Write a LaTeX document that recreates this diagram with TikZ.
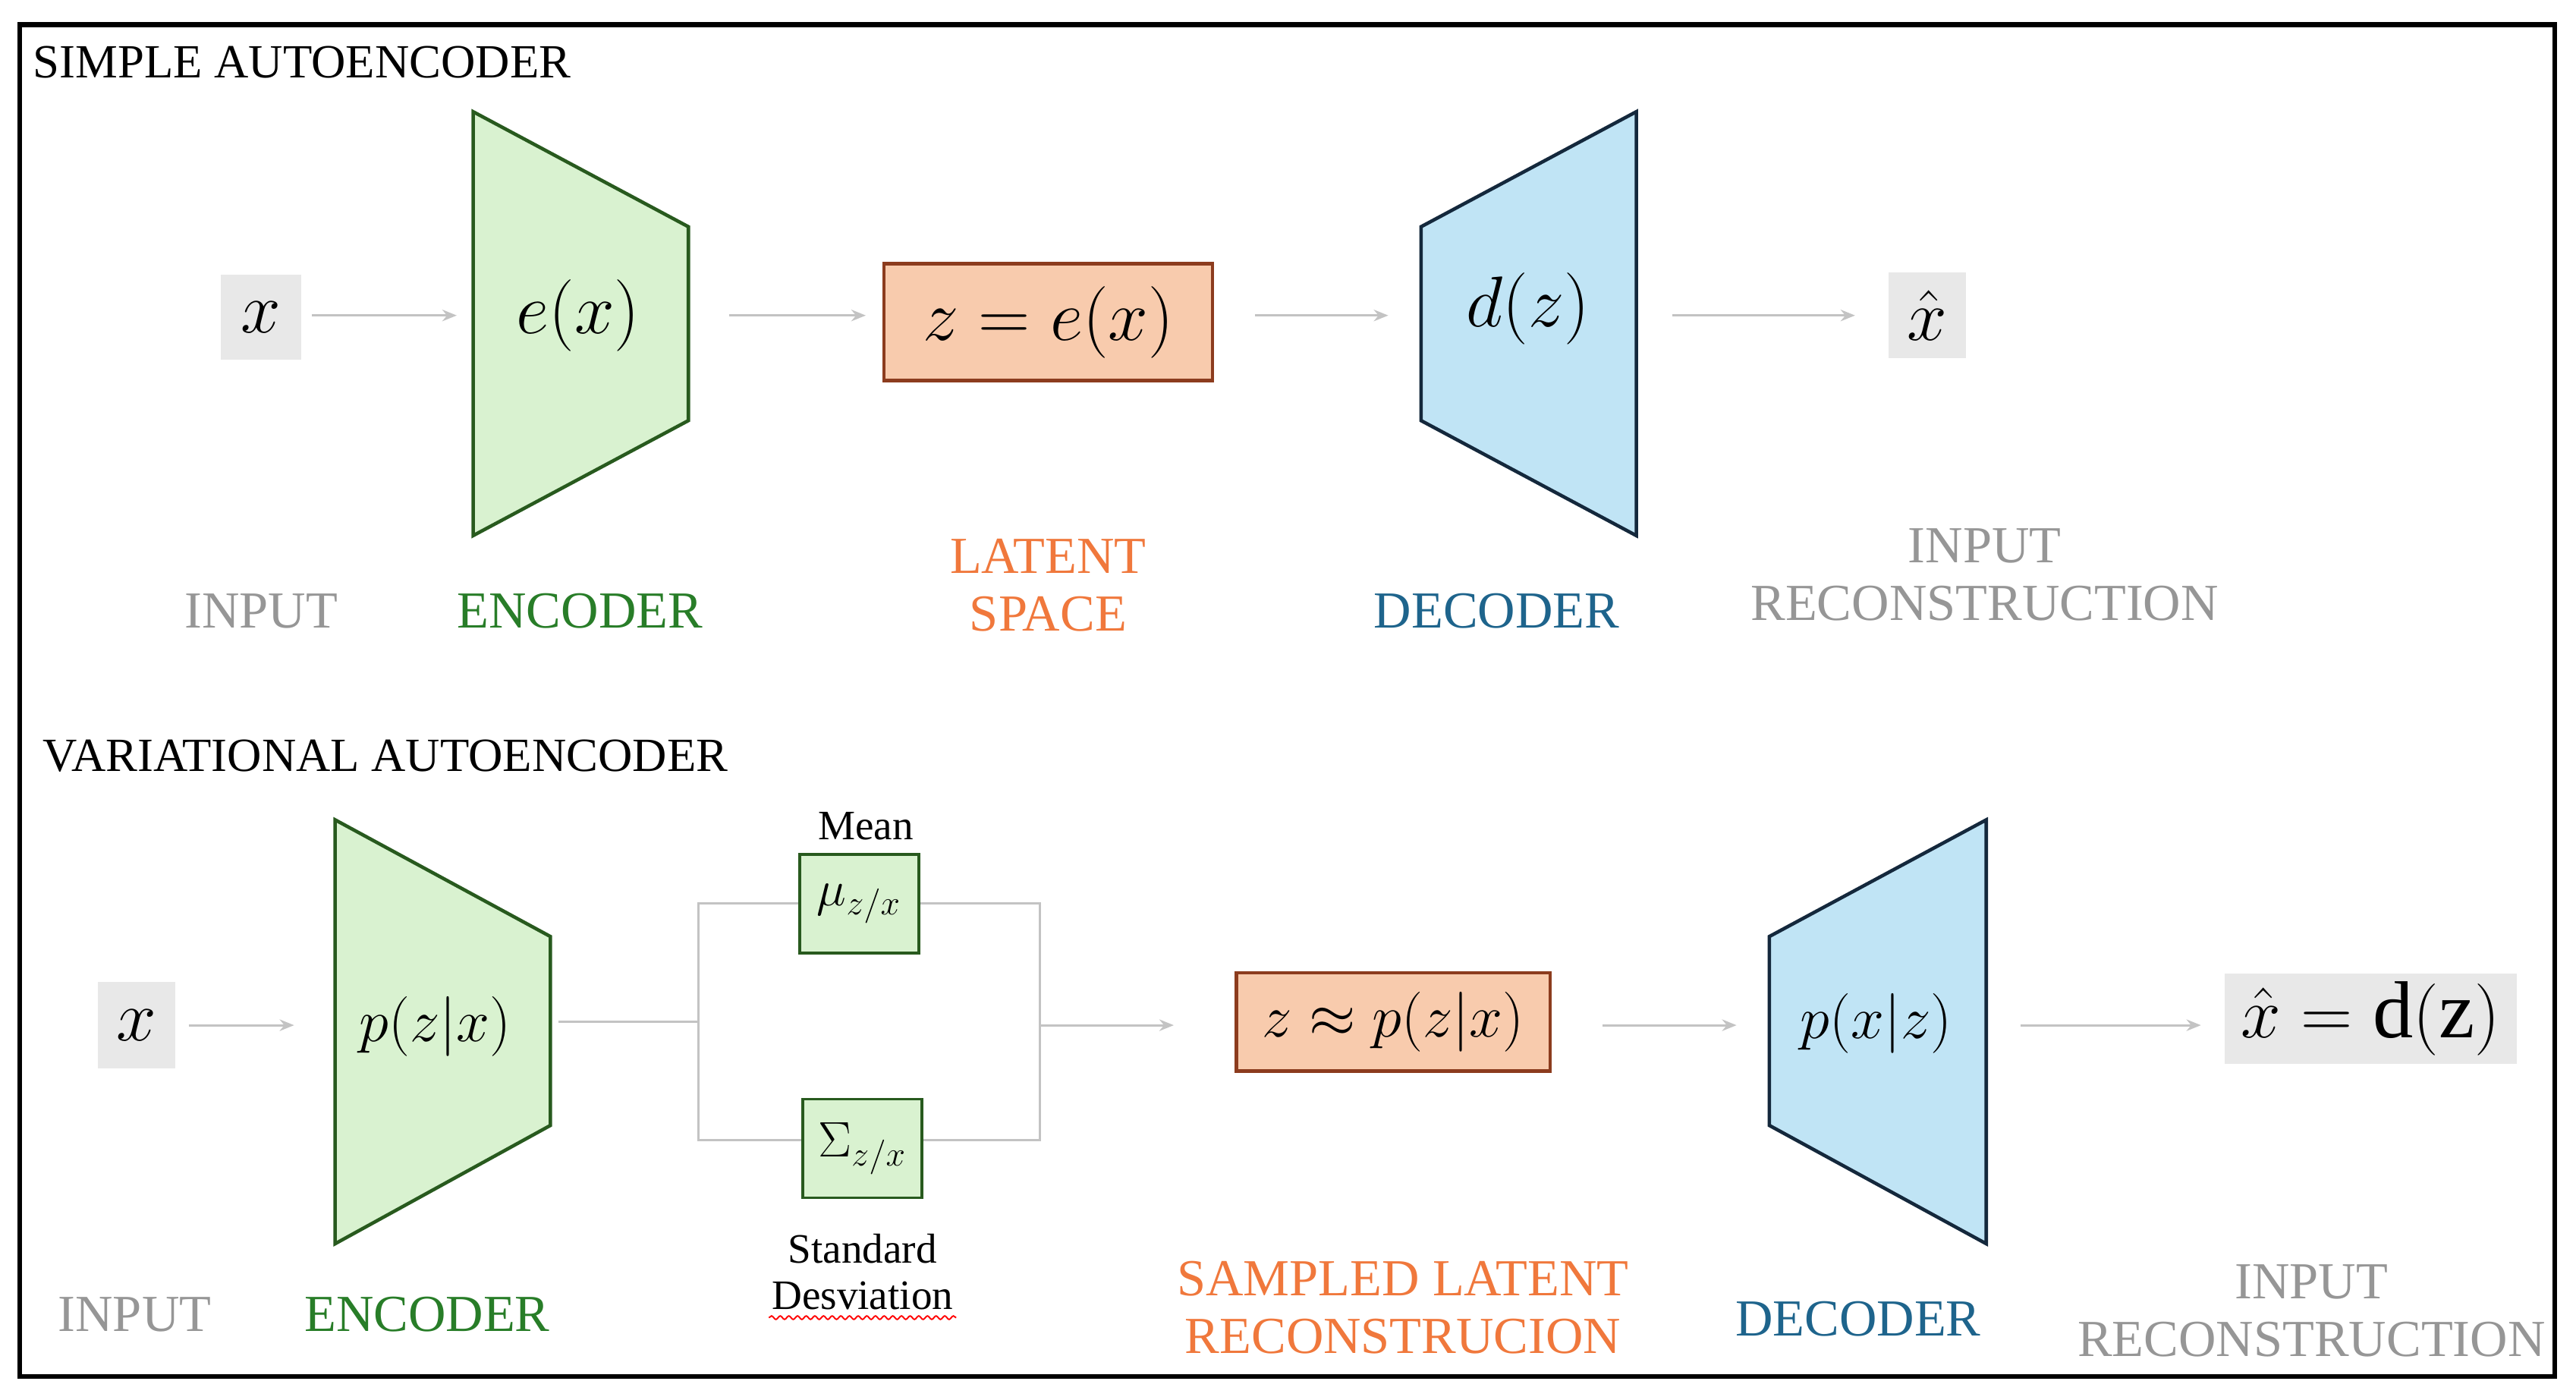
\documentclass[tikz,border=0pt]{standalone}
\usepackage{fontspec}
\setmainfont{Liberation Serif}
\usetikzlibrary{arrows.meta,decorations.pathmorphing}
\definecolor{lgray}{RGB}{150,150,150}
\definecolor{arr}{RGB}{195,195,195}
\definecolor{boxg}{RGB}{232,232,232}
\definecolor{encf}{RGB}{217,242,208}
\definecolor{encd}{RGB}{40,90,30}
\definecolor{enct}{RGB}{40,125,40}
\definecolor{latf}{RGB}{248,203,173}
\definecolor{latd}{RGB}{140,60,30}
\definecolor{latt}{RGB}{240,120,60}
\definecolor{decf}{RGB}{192,228,245}
\definecolor{decd}{RGB}{20,40,60}
\definecolor{dect}{RGB}{30,100,140}
\tikzset{
 arrw/.style={draw=arr,line width=0.8pt,-{Stealth[length=5pt,width=4pt]}},
 conn/.style={draw=arr,line width=0.8pt},
 lab/.style={font=\fontsize{18}{20}\selectfont,align=center},
 title/.style={font=\fontsize{16.5}{18}\selectfont,anchor=west},
 gbox/.style={fill=boxg,draw=none,inner sep=0pt},
 enc/.style={fill=encf,draw=encd,line width=1.2pt},
 dec/.style={fill=decf,draw=decd,line width=1.2pt},
 lat/.style={fill=latf,draw=latd,line width=1.2pt,inner sep=0pt},
 gsq/.style={fill=encf,draw=encd,line width=1pt,inner sep=0pt,minimum width=1.45cm,minimum height=1.2cm},
}
\begin{document}
\begin{tikzpicture}[x=0.02cm,y=-0.02cm]
\useasboundingbox (0,0) rectangle (1568,852);
\draw[line width=1.6pt] (12,15) rectangle (1555,838);
\node[title] (t1) at (14,38) {SIMPLE AUTOENCODER};
\node[title] (t2) at (20,460) {VARIATIONAL AUTOENCODER};

% top row
\node[gbox,minimum width=0.98cm,minimum height=1.04cm] (x1) at (159,193) {\fontsize{28}{30}\selectfont$x$};
\fill[enc] (288,68) -- (419,138) -- (419,256) -- (288,326) -- cycle;
\node (e1) at (352,192) {\fontsize{30}{32}\selectfont$e(x)$};
\node[lat,minimum width=4cm,minimum height=1.42cm] (l1) at (638,196) {\fontsize{30}{32}\selectfont$z=e(x)$};
\fill[dec] (865,138) -- (996,68) -- (996,326) -- (865,256) -- cycle;
\node (d1) at (930,188) {\fontsize{30}{32}\selectfont$d(z)$};
\node[gbox,minimum width=0.94cm,minimum height=1.04cm] (xh1) at (1173,192) {\fontsize{28}{30}\selectfont$\hat{x}$};
\coordinate (ea1) at (288,192); \coordinate (eb1) at (419,192);
\coordinate (da1) at (865,192); \coordinate (db1) at (996,192);
\draw[arrw] ([xshift=0.12cm]x1.east|-ea1) -- ([xshift=-0.2cm]ea1);
\draw[arrw] ([xshift=0.5cm]eb1) -- ([xshift=-0.2cm]l1.west|-eb1);
\draw[arrw] ([xshift=0.5cm]l1.east|-da1) -- ([xshift=-0.4cm]da1);
\draw[arrw] ([xshift=0.44cm]db1) -- ([xshift=-0.4cm]xh1.west|-db1);

\node[lab,text=lgray] (i1) at (159,372) {INPUT};
\node[lab,text=enct] (en1) at (353,372) {ENCODER};
\node[lab,text=latt] (ls1) at (638,356) {LATENT\\SPACE};
\node[lab,text=dect] (de1) at (911,372) {DECODER};
\node[lab,text=lgray] (r1) at (1208,350) {INPUT\\RECONSTRUCTION};

% bottom row
\node[gbox,minimum width=0.94cm,minimum height=1.06cm] (x2) at (83,624) {\fontsize{28}{30}\selectfont$x$};
\fill[enc] (204,499) -- (335,570) -- (335,685) -- (204,757) -- cycle;
\node (e2) at (265,625) {\fontsize{20}{22}\selectfont$p(z|x)$};
\coordinate (ea2) at (204,624); \coordinate (eb2) at (335,622);
\draw[arrw] ([xshift=0.16cm]x2.east) -- ([xshift=-0.5cm]ea2);
\coordinate (s1) at (425,622);
\draw[conn] ([xshift=0.1cm]eb2) -- (s1);
\node[gsq] (mu) at (523,550) {\fontsize{17}{18}\selectfont$\mu_{z/x}$};
\node[gsq] (sg) at (525,699) {\fontsize{17}{18}\selectfont$\Sigma_{z/x}$};
\node[font=\fontsize{14.5}{16}\selectfont] (mean) at (527,503) {Mean};
\node[font=\fontsize{14.5}{16}\selectfont,align=center] (sd) at (525,774) {Standard\\Desviation};
\draw[red,line width=0.5pt,decorate,decoration={snake,amplitude=0.6pt,segment length=3pt}] (468,802) -- (582,802);
\coordinate (s2) at (633,624);
\draw[conn] (mu.west) -- (425,550) -- (425,694) -- (sg.west|-425,694);
\draw[conn] (mu.east) -- (633,550) -- (633,694) -- (sg.east|-633,694);
\node[lat,minimum width=3.82cm,minimum height=1.2cm] (l2) at (848,622) {\fontsize{20}{22}\selectfont$z\approx p(z|x)$};
\coordinate (da2) at (1077,624); \coordinate (db2) at (1209,624);
\draw[arrw] (s2) -- ([xshift=-0.74cm]l2.west|-s2);
\fill[dec] (1077,570) -- (1209,499) -- (1209,757) -- (1077,685) -- cycle;
\node (d2) at (1142,623) {\fontsize{20}{22}\selectfont$p(x|z)$};
\draw[arrw] ([xshift=0.62cm]l2.east|-da2) -- ([xshift=-0.4cm]da2);
\node[gbox,minimum width=3.56cm,minimum height=1.1cm] (xh2) at (1443,620) {\fontsize{28}{30}\selectfont$\hat{x}=\mathrm{d(z)}$};
\draw[arrw] ([xshift=0.42cm]db2) -- ([xshift=-0.28cm]xh2.west|-db2);

\node[lab,text=lgray] (i2) at (82,800) {INPUT};
\node[lab,text=enct] (en2) at (260,800) {ENCODER};
\node[lab,text=latt] (ls2) at (854,796) {SAMPLED LATENT\\RECONSTRUCION};
\node[lab,text=dect] (de2) at (1131,803) {DECODER};
\node[lab,text=lgray] (r2) at (1407,798) {INPUT\\RECONSTRUCTION};
\end{tikzpicture}
\end{document}
